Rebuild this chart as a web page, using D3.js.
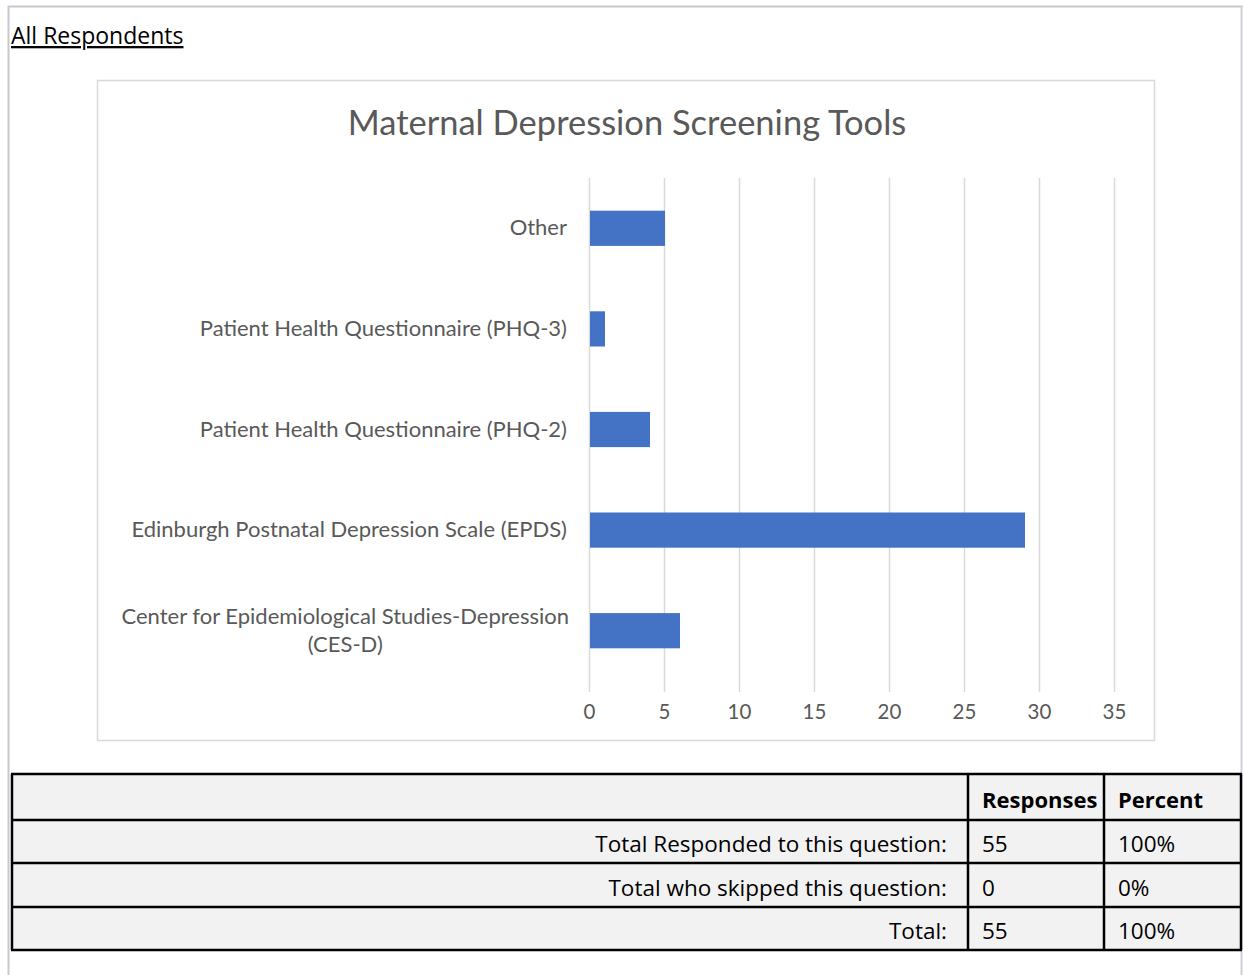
<!DOCTYPE html>
<html>
<head>
<meta charset="utf-8">
<script src="https://cdn.jsdelivr.net/npm/d3@7"></script>
<style>
  body { margin: 0; background: #fff; }
  svg text { font-family: Lato, "Open Sans", sans-serif; }
</style>
</head>
<body>
<svg id="page" width="1243" height="975"></svg>
<script>
// chart data (listed top to bottom as in the picture)
var categories = [
  "Other",
  "Patient Health Questionnaire (PHQ-3)",
  "Patient Health Questionnaire (PHQ-2)",
  "Edinburgh Postnatal Depression Scale (EPDS)",
  ["Center for Epidemiological Studies-Depression", "(CES-D)"]
];
var counts = [5, 1, 4, 29, 6];
var xTicks = [0, 5, 10, 15, 20, 25, 30, 35];

// summary table
var tableHeader = ["", "Responses", "Percent"];
var tableLabels = ["Total Responded to this question:", "Total who skipped this question:", "Total:"];
var tableResponses = ["55", "0", "55"];
var tablePercent = ["100%", "0%", "100%"];

var svg = d3.select("#page");

// page frame
svg.append("path")
  .attr("d", "M8.5,975 V6.5 H1243")
  .attr("fill", "none").attr("stroke", "#c8c8d0").attr("stroke-width", 2);
svg.append("line")
  .attr("x1", 1241.5).attr("x2", 1241.5).attr("y1", 6).attr("y2", 975)
  .attr("stroke", "#d0d0d8").attr("stroke-width", 2);

svg.append("text")
  .attr("x", 11).attr("y", 44)
  .style("font-family", "'Open Sans', sans-serif")
  .attr("font-size", 23).attr("fill", "#000")
  .attr("text-decoration", "underline")
  .text("All Respondents");

// chart box
svg.append("rect")
  .attr("x", 97.5).attr("y", 80.5).attr("width", 1057).attr("height", 660)
  .attr("fill", "#fff").attr("stroke", "#d9d9d9").attr("stroke-width", 1.5);

svg.append("text")
  .attr("x", 627).attr("y", 135)
  .attr("text-anchor", "middle")
  .attr("font-size", 34.5).attr("fill", "#595959")
  .text("Maternal Depression Screening Tools");

var x = d3.scaleLinear().domain([0, 35]).range([589, 1114]);
var y = d3.scaleBand().domain(d3.range(categories.length)).range([178, 681]).paddingInner(0.65).paddingOuter(0.325);

var plot = svg.append("g");

// gridlines
plot.selectAll(".grid").data(xTicks).enter().append("line")
  .attr("x1", function(d) { return Math.round(x(d)) + 0.5; })
  .attr("x2", function(d) { return Math.round(x(d)) + 0.5; })
  .attr("y1", 178).attr("y2", 692)
  .attr("stroke", "#d9d9d9").attr("stroke-width", 1.5);

// bars
plot.selectAll(".bar").data(counts).enter().append("rect")
  .attr("x", x(0) + 1)
  .attr("y", function(d, i) { return y(i); })
  .attr("width", function(d) { return x(d) - x(0); })
  .attr("height", y.bandwidth())
  .attr("fill", "#4472c4");

// x axis labels
var xAxis = d3.axisBottom(x).tickValues(xTicks).tickSize(0).tickPadding(0);
var gx = svg.append("g").attr("transform", "translate(0,704)").call(xAxis);
gx.select(".domain").remove();
gx.selectAll("text").attr("font-size", 20.5).attr("fill", "#595959")
  .style("font-family", "Lato, sans-serif");

// category labels
var labelX = 567, labelSize = 22;
categories.forEach(function(c, i) {
  var cy = y(i) + y.bandwidth() / 2;
  if (Array.isArray(c)) {
    var t = svg.append("text").attr("font-size", labelSize);
    t.text(c[0]);
    var w = t.node().getComputedTextLength();
    t.remove();
    c.forEach(function(line, j) {
      svg.append("text")
        .attr("x", labelX + 2 - w / 2)
        .attr("y", cy - 7 + j * 28)
        .attr("text-anchor", "middle")
        .attr("font-size", labelSize).attr("fill", "#595959")
        .text(line);
    });
  } else {
    svg.append("text")
      .attr("x", labelX).attr("y", cy + 7)
      .attr("text-anchor", "end")
      .attr("font-size", labelSize).attr("fill", "#595959")
      .text(c);
  }
});

// summary table
var colX = [12, 968, 1104, 1241];
var rowY = [774, 820, 863, 907, 950];
var tbl = svg.append("g");

tbl.append("rect")
  .attr("x", colX[0]).attr("y", rowY[0])
  .attr("width", colX[3] - colX[0]).attr("height", rowY[4] - rowY[0])
  .attr("fill", "#f2f2f2");

rowY.forEach(function(ry) {
  tbl.append("line").attr("x1", colX[0] - 1).attr("x2", colX[3] + 1)
    .attr("y1", ry).attr("y2", ry).attr("stroke", "#000").attr("stroke-width", 2.5);
});
colX.forEach(function(cx) {
  tbl.append("line").attr("x1", cx).attr("x2", cx)
    .attr("y1", rowY[0]).attr("y2", rowY[4]).attr("stroke", "#000").attr("stroke-width", 2.5);
});

function cellText(xp, yp, s, anchor, bold) {
  tbl.append("text")
    .attr("x", xp).attr("y", yp).attr("text-anchor", anchor || "start")
    .attr("font-size", bold ? 22 : 22.5).attr("font-weight", bold ? "bold" : "normal")
    .attr("fill", "#000")
    .style("font-family", "'Open Sans', sans-serif")
    .text(s);
}

tableHeader.forEach(function(h, j) {
  if (h) cellText(colX[j] + 14, rowY[1] - 12, h, "start", true);
});

tableLabels.forEach(function(lbl, i) {
  var base = rowY[i + 2] - 11;
  cellText(colX[1] - 21, base, lbl, "end");
  cellText(colX[1] + 14, base, tableResponses[i]);
  cellText(colX[2] + 14, base, tablePercent[i]);
});
</script>
</body>
</html>
